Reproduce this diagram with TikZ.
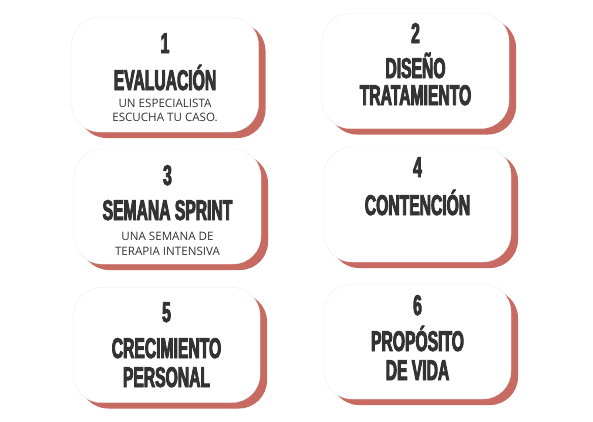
\documentclass[tikz,border=0pt]{standalone}
\usepackage{fontspec}
\usepackage{tikz}
\usetikzlibrary{shadows}
\newfontfamily\headfont[FakeStretch=0.55,FakeBold=3]{Liberation Sans}
\newfontfamily\subfont{Open Sans}
\definecolor{cardred}{HTML}{C66A62}
\definecolor{inkgray}{HTML}{333333}

\begin{document}
\begin{tikzpicture}[x=1pt,y=-1pt]
  \tikzstyle{card}=[draw=black!7,fill=white,rounded corners=28pt,
                    minimum width=187pt,minimum height=115pt,
                    drop shadow={shadow xshift=7pt,shadow yshift=-6pt,fill=cardred,opacity=1}]
  \tikzstyle{numtxt}=[anchor=base,inner sep=0pt,text=inkgray,
                      font=\headfont\bfseries\fontsize{28.5}{30}\selectfont]
  \tikzstyle{headtxt}=[numtxt]
  \tikzstyle{subtxt}=[anchor=base,inner sep=0pt,text=inkgray,
                      font=\subfont\fontsize{11.6}{13}\selectfont]

  \useasboundingbox (0,0) rectangle (593,421);

  \node[card] (c1) at (165,74.5)   {};
  \node[card] (c2) at (415.5,71)   {};
  \node[card] (c3) at (167.5,206.5) {};
  \node[card] (c4) at (417.5,204.5) {};
  \node[card] (c5) at (166.5,345)  {};
  \node[card] (c6) at (417.5,341.5) {};

  % step 1
  \node[numtxt]  (n1)  at (165,53)  {1};
  \node[headtxt] (h1)  at (165,90)  {EVALUACIÓN};
  \node[subtxt]  (s1a) at (165,107) {UN ESPECIALISTA};
  \node[subtxt]  (s1b) at (165,121) {ESCUCHA TU CASO.};

  % step 2
  \node[numtxt]  (n2)  at (415.5,43)  {2};
  \node[headtxt] (h2a) at (415.5,78)  {DISEÑO};
  \node[headtxt] (h2b) at (415.5,105) {TRATAMIENTO};

  % step 3
  \node[numtxt]  (n3)  at (167.5,185) {3};
  \node[headtxt] (h3)  at (167.5,220) {SEMANA SPRINT};
  \node[subtxt]  (s3a) at (167.5,240) {UNA SEMANA DE};
  \node[subtxt]  (s3b) at (167.5,255) {TERAPIA INTENSIVA};

  % step 4
  \node[numtxt]  (n4)  at (417.5,177) {4};
  \node[headtxt] (h4)  at (417.5,215) {CONTENCIÓN};

  % step 5
  \node[numtxt]  (n5)  at (166.5,322) {5};
  \node[headtxt] (h5a) at (166.5,358) {CRECIMIENTO};
  \node[headtxt] (h5b) at (166.5,387) {PERSONAL};

  % step 6
  \node[numtxt]  (n6)  at (417.5,315) {6};
  \node[headtxt] (h6a) at (417.5,351) {PROPÓSITO};
  \node[headtxt] (h6b) at (417.5,380) {DE VIDA};

\end{tikzpicture}
\end{document}
